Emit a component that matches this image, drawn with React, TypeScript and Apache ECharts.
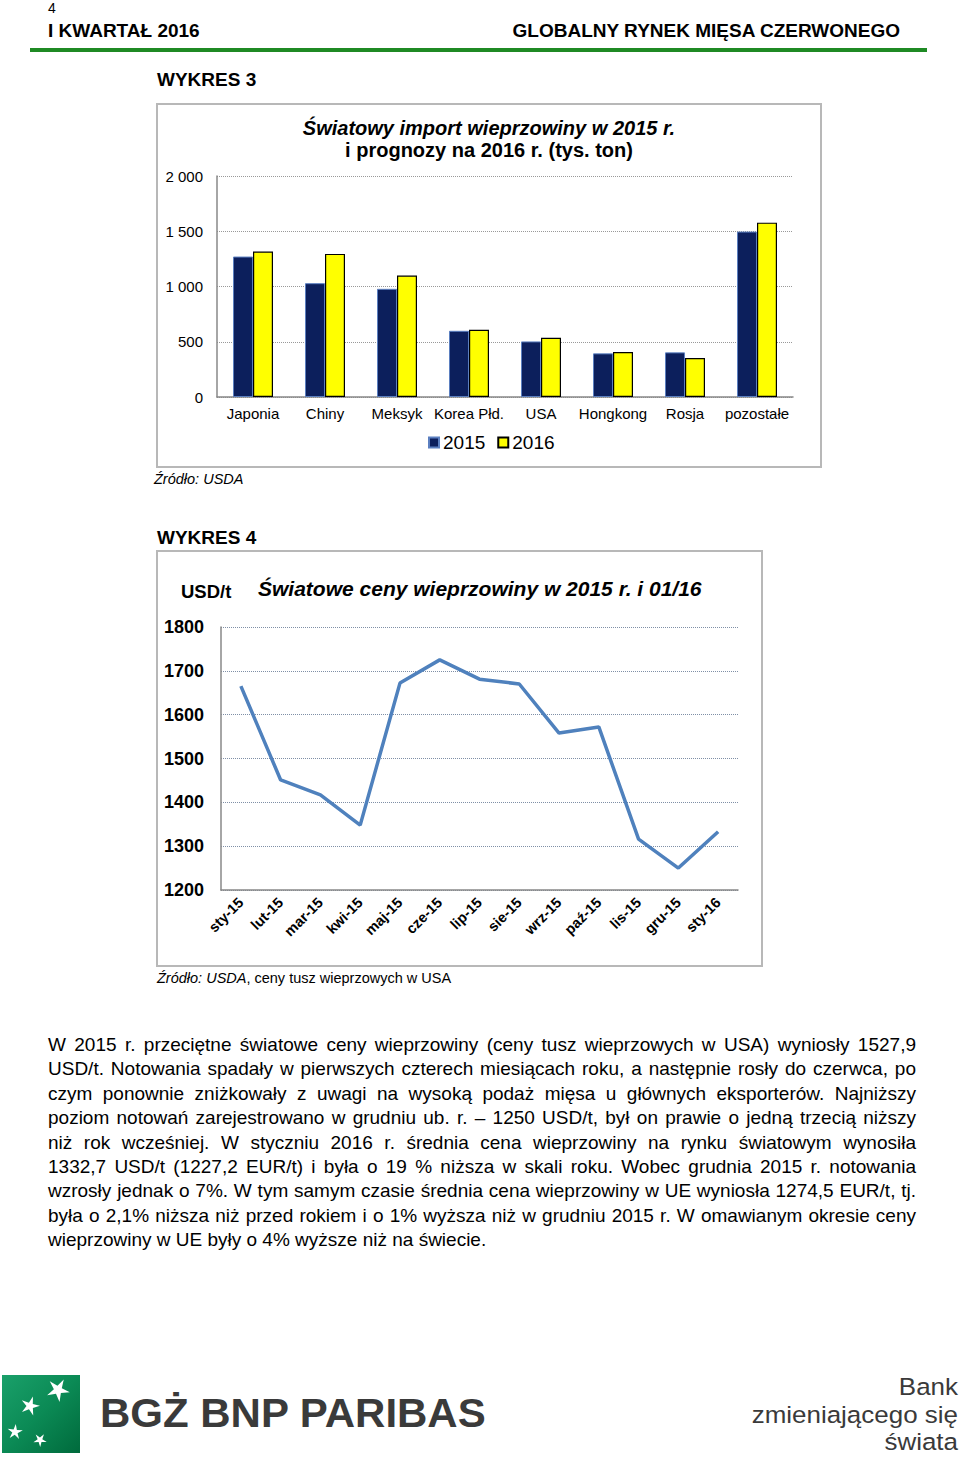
import React, { useEffect, useRef } from "react";
import * as echarts from "echarts";

const importCategories = ["Japonia", "Chiny", "Meksyk", "Korea Płd.", "USA", "Hongkong", "Rosja", "pozostałe"];
const import2015 = [1271, 1030, 979, 599, 503, 395, 404, 1497];
const import2016 = [1316, 1295, 1099, 608, 536, 407, 352, 1578];
const importTicks = [0, 500, 1000, 1500, 2000];

const priceMonths = ["sty-15", "lut-15", "mar-15", "kwi-15", "maj-15", "cze-15", "lip-15", "sie-15", "wrz-15", "paź-15", "lis-15", "gru-15", "sty-16"];
const prices = [1665, 1451, 1417, 1348, 1672, 1725, 1681, 1670, 1558, 1572, 1316, 1250, 1333];
const priceTicks = [1200, 1300, 1400, 1500, 1600, 1700, 1800];

const paragraphLines = [
  "W 2015 r. przeciętne światowe ceny wieprzowiny (ceny tusz wieprzowych w USA) wyniosły 1527,9",
  "USD/t. Notowania spadały w pierwszych czterech miesiącach roku, a następnie rosły do czerwca, po",
  "czym ponownie zniżkowały z uwagi na wysoką podaż mięsa u głównych eksporterów. Najniższy",
  "poziom notowań zarejestrowano w grudniu ub. r. – 1250 USD/t, był on prawie o jedną trzecią niższy",
  "niż rok wcześniej. W styczniu 2016 r. średnia cena wieprzowiny na rynku światowym wynosiła",
  "1332,7 USD/t (1227,2 EUR/t) i była o 19 % niższa w skali roku. Wobec grudnia 2015 r. notowania",
  "wzrosły jednak o 7%. W tym samym czasie średnia cena wieprzowiny w UE wyniosła 1274,5 EUR/t, tj.",
  "była o 2,1% niższa niż przed rokiem i o 1% wyższa niż w grudniu 2015 r. W omawianym okresie ceny",
  "wieprzowiny w UE były o 4% wyższe niż na świecie.",
];

const FONT = "'Liberation Sans', Arial, sans-serif";

function starPoints(cx: number, cy: number, r: number, rot: number) {
  const pts: number[][] = [];
  for (let i = 0; i < 10; i++) {
    const rr = i % 2 === 0 ? r : r * 0.35;
    const a = rot + (Math.PI * i) / 5 - Math.PI / 2;
    pts.push([cx + rr * Math.cos(a), cy + rr * Math.sin(a)]);
  }
  return pts;
}

function fmtThousands(v: number) {
  const s = String(v);
  return v >= 1000 ? s.slice(0, s.length - 3) + " " + s.slice(-3) : s;
}

export default function App() {
  const ref = useRef<HTMLDivElement>(null);
  useEffect(() => {
    if (!ref.current) return;
    const chart = echarts.init(ref.current, null, { renderer: "svg", width: 960, height: 1460 });
    const text = (x: number, y: number, t: string, size: number, opts: any = {}) => ({
      type: "text",
      x,
      y,
      scaleX: opts.scaleX || 1,
      silent: true,
      style: {
        text: t,
        fontSize: size,
        fontFamily: FONT,
        fontWeight: opts.weight || "normal",
        fontStyle: opts.style || "normal",
        fill: opts.fill || "#000",
        align: opts.align || "left",
        verticalAlign: "middle",
      },
    });
    const option: any = {
      animation: false,
      backgroundColor: "#fff",
      graphic: [
        text(48, 8, "4", 14),
        text(48, 30, "I KWARTAŁ 2016", 19, { weight: "bold" }),
        text(900, 30, "GLOBALNY RYNEK MIĘSA CZERWONEGO", 19, { weight: "bold", align: "right" }),
        { type: "rect", shape: { x: 30, y: 48, width: 897, height: 4 }, style: { fill: "#1f8a24" }, silent: true },
        text(157, 79, "WYKRES 3", 19, { weight: "bold" }),
        { type: "rect", shape: { x: 157, y: 104, width: 664, height: 363 }, style: { fill: "none", stroke: "#b8b8b8", lineWidth: 2 }, silent: true },
        text(489, 128, "Światowy import wieprzowiny w 2015 r.", 20, { weight: "bold", style: "italic", align: "center" }),
        text(489, 150, "i prognozy na 2016 r. (tys. ton)", 20, { weight: "bold", align: "center" }),
        text(154, 479, "Źródło: USDA", 14.5, { style: "italic" }),
        text(157, 537, "WYKRES 4", 19, { weight: "bold" }),
        { type: "rect", shape: { x: 157, y: 551, width: 605, height: 415 }, style: { fill: "none", stroke: "#b8b8b8", lineWidth: 2 }, silent: true },
        text(181, 591, "USD/t", 18.5, { weight: "bold" }),
        text(258, 588, "Światowe ceny wieprzowiny w 2015 r. i 01/16", 21, { weight: "bold", style: "italic" }),
        {
          type: "text",
          x: 157,
          y: 978,
          silent: true,
          style: {
            text: "{i|Źródło: USDA}{n|, ceny tusz wieprzowych w USA}",
            verticalAlign: "middle",
            rich: {
              i: { fontSize: 14.5, fontFamily: FONT, fontStyle: "italic", fill: "#000" },
              n: { fontSize: 14.5, fontFamily: FONT, fill: "#000" },
            },
          },
        },
        {
          type: "rect",
          shape: { x: 2, y: 1375, width: 78, height: 78 },
          silent: true,
          style: {
            fill: new echarts.graphic.LinearGradient(0, 0, 1, 1, [
              { offset: 0, color: "#1aa06a" },
              { offset: 0.5, color: "#0b8a55" },
              { offset: 1, color: "#006a3c" },
            ]),
          },
        },
        { type: "polygon", shape: { points: starPoints(58, 1390, 12, 0.5) }, style: { fill: "#fff" }, silent: true },
        { type: "polygon", shape: { points: starPoints(30, 1406, 10, 0.3) }, style: { fill: "#fff" }, silent: true },
        { type: "polygon", shape: { points: starPoints(15, 1432, 8, 0.1) }, style: { fill: "#fff" }, silent: true },
        { type: "polygon", shape: { points: starPoints(40, 1440, 7, 0.6) }, style: { fill: "#fff" }, silent: true },
        text(100, 1413, "BGŻ BNP PARIBAS", 40, { weight: "bold", fill: "#3a3a3a", scaleX: 1.05 }),
        text(958, 1386, "Bank", 24.5, { fill: "#3a3a3a", align: "right", scaleX: 1.06 }),
        text(958, 1414, "zmieniającego się", 24.5, { fill: "#3a3a3a", align: "right", scaleX: 1.06 }),
        text(958, 1441, "świata", 24.5, { fill: "#3a3a3a", align: "right", scaleX: 1.06 }),
      ],
      legend: {
        data: ["2015", "2016"],
        left: 423,
        top: 428,
        itemWidth: 10,
        itemHeight: 10,
        itemGap: 12,
        icon: "rect",
        textStyle: { fontSize: 19, fontFamily: FONT, color: "#000", padding: [0, 0, 0, -1] },
      },
      grid: [
        { left: 217, top: 176, width: 576, height: 221 },
        { left: 221, top: 627, width: 517, height: 263 },
      ],
      xAxis: [
        {
          type: "category",
          gridIndex: 0,
          data: importCategories,
          axisTick: { show: false },
          axisLine: { lineStyle: { color: "#888", width: 1.5 } },
          axisLabel: { fontSize: 15, fontFamily: FONT, color: "#000", margin: 9, interval: 0 },
        },
        {
          type: "category",
          gridIndex: 1,
          data: priceMonths,
          axisTick: { show: false },
          axisLine: { lineStyle: { color: "#888", width: 1.5 } },
          axisLabel: { fontSize: 14.5, fontFamily: FONT, fontWeight: "bold", color: "#000", margin: 10, rotate: 45, interval: 0 },
        },
      ],
      yAxis: [
        {
          type: "value",
          gridIndex: 0,
          min: importTicks[0],
          max: importTicks[importTicks.length - 1],
          interval: 500,
          axisLine: { show: true, lineStyle: { color: "#888", width: 1.5 } },
          axisTick: { show: false },
          splitLine: { lineStyle: { color: "#999", type: "dotted", width: 1 } },
          axisLabel: { fontSize: 15, fontFamily: FONT, color: "#000", margin: 14, formatter: (v: number) => fmtThousands(v) },
        },
        {
          type: "value",
          gridIndex: 1,
          min: priceTicks[0],
          max: priceTicks[priceTicks.length - 1],
          interval: 100,
          axisLine: { show: true, lineStyle: { color: "#888", width: 1.5 } },
          axisTick: { show: false },
          splitLine: { lineStyle: { color: "#7f8fa6", type: "dotted", width: 1 } },
          axisLabel: { fontSize: 18, fontFamily: FONT, fontWeight: "bold", color: "#000", margin: 17, formatter: (v: number) => String(v) },
        },
      ],
      series: [
        {
          name: "2015",
          type: "bar",
          xAxisIndex: 0,
          yAxisIndex: 0,
          data: import2015,
          barWidth: 20,
          barGap: "0%",
          itemStyle: { color: "#0c1f5c", borderColor: "#5b7fc0", borderWidth: 1 },
        },
        {
          name: "2016",
          type: "bar",
          xAxisIndex: 0,
          yAxisIndex: 0,
          data: import2016,
          barWidth: 20,
          barGap: "0%",
          itemStyle: { color: "#ffff00", borderColor: "#000", borderWidth: 1.2 },
        },
        {
          name: "Ceny",
          type: "line",
          xAxisIndex: 1,
          yAxisIndex: 1,
          data: prices,
          showSymbol: false,
          symbol: "none",
          lineStyle: { color: "#4f81bd", width: 3.5 },
        },
      ],
    };
    chart.setOption(option);
    return () => chart.dispose();
  }, []);

  return (
    <div style={{ position: "absolute", left: 0, top: 0, width: 960, height: 1460, background: "#fff" }}>
      <div ref={ref} style={{ position: "absolute", left: 0, top: 0, width: 960, height: 1460 }} />
      <div
        style={{
          position: "absolute",
          left: 48,
          top: 1033,
          width: 868,
          fontFamily: FONT,
          fontSize: 19,
          lineHeight: "24.4px",
          color: "#000",
        }}
      >
        {paragraphLines.map((line, i) => (
          <div
            key={i}
            style={{
              textAlign: "justify",
              textAlignLast: i < paragraphLines.length - 1 ? "justify" : "left",
              whiteSpace: "nowrap",
            } as any}
          >
            {line}
          </div>
        ))}
      </div>
    </div>
  );
}
